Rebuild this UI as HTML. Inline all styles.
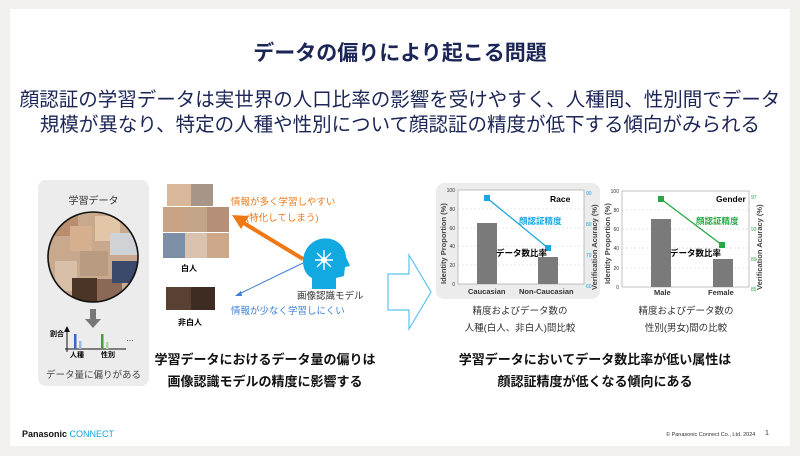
<!DOCTYPE html>
<html><head><meta charset="utf-8"><style>
body{margin:0;width:800px;height:456px;background:#f2f1ed;position:relative;overflow:hidden;font-family:"Liberation Sans","Noto Sans CJK JP",sans-serif}
.slide{position:absolute;left:10px;top:9px;width:780px;height:437px;background:#fff}
.t{position:absolute;white-space:nowrap}
.c{text-align:center}
.f{position:absolute}
</style></head><body>
<div class="slide"></div>
<div class="t c" style="left:0;width:800px;top:37px;font-size:21px;font-weight:bold;color:#1b2556">データの偏りにより起こる問題</div>
<div class="t c" style="left:0;width:800px;top:88px;font-size:19.5px;color:#1b2556;line-height:25px">顔認証の学習データは実世界の人口比率の影響を受けやすく、人種間、性別間でデータ<br>規模が異なり、特定の人種や性別について顔認証の精度が低下する傾向がみられる</div>

<div class="f" style="left:38px;top:180px;width:111px;height:206px;background:#ececec;border-radius:8px"></div>
<div class="t c" style="left:38px;width:111px;top:192px;font-size:10px;color:#333">学習データ</div>
<svg class="f" style="left:0;top:0" width="800" height="456">
<defs><clipPath id="cc"><circle cx="93" cy="257" r="45"/></clipPath></defs>
<circle cx="93" cy="257" r="45" fill="#c9a98e"/>
<g clip-path="url(#cc)">
<rect x="48" y="211" width="30" height="25" fill="#b88e6e"/><rect x="70" y="226" width="22" height="25" fill="#d6b08e"/>
<rect x="95" y="216" width="25" height="25" fill="#e2c6a8"/><rect x="110" y="233" width="30" height="22" fill="#cfd3d6"/>
<rect x="55" y="261" width="22" height="30" fill="#d8bfa8"/><rect x="72" y="278" width="25" height="25" fill="#4a3526"/>
<rect x="97" y="279" width="25" height="25" fill="#8a6a56"/><rect x="112" y="261" width="25" height="22" fill="#3b4a6a"/>
<rect x="80" y="251" width="28" height="25" fill="#b99b82"/>
</g>
<circle cx="93" cy="257" r="45" fill="none" stroke="#111" stroke-width="1.6"/>
<rect x="90" y="309" width="6" height="11" fill="#777"/><polygon points="85,319 101,319 93,328" fill="#777"/>
<line x1="65" y1="349" x2="126" y2="349" stroke="#111"/><line x1="67" y1="330" x2="67" y2="352" stroke="#111"/>
<polygon points="64,332 70,332 67,326" fill="#111"/>
<rect x="74" y="334" width="2.5" height="15" fill="#3a66c4"/><rect x="79" y="341" width="2.5" height="8" fill="#9bb6e6"/>
<rect x="101" y="334" width="2.5" height="15" fill="#4c9a3a"/><rect x="106" y="342" width="2.5" height="7" fill="#b0d6a3"/>
<rect x="167" y="184" width="24" height="22" fill="#d8b79a"/><rect x="191" y="184" width="22" height="22" fill="#a8958a"/>
<rect x="163" y="207" width="22" height="25" fill="#c9a184"/><rect x="185" y="207" width="22" height="25" fill="#c3a58a"/><rect x="207" y="207" width="22" height="25" fill="#b58f77"/>
<rect x="163" y="233" width="22" height="25" fill="#7d8fa6"/><rect x="185" y="233" width="22" height="25" fill="#d9c3ae"/><rect x="207" y="233" width="22" height="25" fill="#cda78a"/>
<rect x="166" y="287" width="25" height="23" fill="#5a4032"/><rect x="191" y="287" width="24" height="23" fill="#3e2b22"/>
<line x1="303" y1="259" x2="242" y2="222" stroke="#f07814" stroke-width="4"/>
<polygon points="232,215 249,216 241,229" fill="#f07814"/>
<line x1="303" y1="263" x2="239" y2="294" stroke="#3b7fd6" stroke-width="1"/>
<polygon points="235,296 241,291 242,296" fill="#3b7fd6"/>
<path d="M312 289 L312 278 C300 272 300 252 312 243 C325 233 345 240 346 257 L350 266 L345 267 L344 276 L336 278 L336 289 Z" fill="#12a8e0"/>
<g stroke="#fff" stroke-width="1.4"><line x1="324" y1="250" x2="324" y2="270"/><line x1="315" y1="260" x2="333" y2="260"/><line x1="317" y1="253" x2="331" y2="267"/><line x1="331" y1="253" x2="317" y2="267"/></g>
<circle cx="324" cy="260" r="3" fill="#fff"/>
<path d="M388 274 L409 274 L409 255 L431 292 L409 329 L409 310 L388 310 Z" fill="none" stroke="#5bc3ec" stroke-width="1.2"/>
<rect x="436" y="183" width="164" height="116" rx="8" fill="#ececec"/>
<rect x="458" y="190" width="126" height="94" fill="#fff" stroke="#999" stroke-width="0.6"/>
<g stroke="#ccc" stroke-dasharray="2,2" stroke-width="0.5"><line x1="458" y1="209" x2="584" y2="209"/><line x1="458" y1="228" x2="584" y2="228"/><line x1="458" y1="246" x2="584" y2="246"/><line x1="458" y1="265" x2="584" y2="265"/></g>
<rect x="477" y="223" width="20" height="61" fill="#7a7a7a"/><rect x="538" y="257" width="20" height="27" fill="#7a7a7a"/>
<line x1="487" y1="198" x2="548" y2="248" stroke="#1aa7e0" stroke-width="1.3"/>
<rect x="484" y="195" width="6" height="6" fill="#1aa7e0"/><rect x="545" y="245" width="6" height="6" fill="#1aa7e0"/>
<rect x="622" y="191" width="127" height="96" fill="#fff" stroke="#999" stroke-width="0.6"/>
<g stroke="#ccc" stroke-dasharray="2,2" stroke-width="0.5"><line x1="622" y1="210" x2="749" y2="210"/><line x1="622" y1="229" x2="749" y2="229"/><line x1="622" y1="248" x2="749" y2="248"/><line x1="622" y1="268" x2="749" y2="268"/></g>
<rect x="651" y="219" width="20" height="68" fill="#7a7a7a"/><rect x="713" y="259" width="20" height="28" fill="#7a7a7a"/>
<line x1="661" y1="199" x2="722" y2="245" stroke="#28a844" stroke-width="1.3"/>
<rect x="658" y="196" width="6" height="6" fill="#28a844"/><rect x="719" y="242" width="6" height="6" fill="#28a844"/>
<g font-size="5" fill="#333" text-anchor="end"><text x="455" y="192">100</text><text x="455" y="211">80</text><text x="455" y="230">60</text><text x="455" y="248">40</text><text x="455" y="267">20</text><text x="455" y="286">0</text>
<text x="619" y="193">100</text><text x="619" y="212">80</text><text x="619" y="231">60</text><text x="619" y="250">40</text><text x="619" y="270">20</text><text x="619" y="289">0</text></g>
<g font-size="5" fill="#1aa7e0"><text x="586" y="195">90</text><text x="586" y="226">80</text><text x="586" y="257">70</text><text x="586" y="288">60</text></g>
<g font-size="5" fill="#28a844"><text x="751" y="199">97</text><text x="751" y="231">93</text><text x="751" y="261">89</text><text x="751" y="291">85</text></g>
<g font-size="7.5" font-weight="bold" fill="#444"><text transform="translate(446,284) rotate(-90)">Identity Proportion (%)</text><text transform="translate(610,284) rotate(-90)">Identity Proportion (%)</text>
<text transform="translate(597,290) rotate(-90)">Verification Acuracy (%)</text><text transform="translate(762,290) rotate(-90)">Verification Acuracy (%)</text></g>
</svg>
<div class="t" style="left:50px;top:329px;font-size:7px;font-weight:bold">割合</div>
<div class="t" style="left:70px;top:350px;font-size:7px;font-weight:bold">人種</div>
<div class="t" style="left:101px;top:350px;font-size:7px;font-weight:bold">性別</div>
<div class="t" style="left:126px;top:334px;font-size:8px">…</div>
<div class="t c" style="left:38px;width:111px;top:367px;font-size:9.5px;color:#444">データ量に偏りがある</div>
<div class="t" style="left:181px;top:263px;font-size:8px;font-weight:bold">白人</div>
<div class="t" style="left:178px;top:317px;font-size:8px;font-weight:bold">非白人</div>
<div class="t" style="left:231px;top:194px;font-size:9.5px;color:#f07814">情報が多く学習しやすい</div>
<div class="t" style="left:246px;top:210px;font-size:9.5px;color:#f07814">(特化してしまう)</div>
<div class="t" style="left:231px;top:303px;font-size:9.5px;color:#3b7fd6">情報が少なく学習しにくい</div>
<div class="t" style="left:297px;top:288px;font-size:9.5px;color:#333">画像認識モデル</div>
<div class="t c" style="left:150px;width:230px;top:349px;font-size:13px;font-weight:bold;color:#111;line-height:22px">学習データにおけるデータ量の偏りは<br>画像認識モデルの精度に影響する</div>
<div class="t" style="left:550px;top:194px;font-size:8.5px;font-weight:bold">Race</div>
<div class="t" style="left:519px;top:215px;font-size:8.5px;font-weight:bold;color:#1aa7e0">顔認証精度</div>
<div class="t" style="left:496px;top:247px;font-size:8.5px;font-weight:bold">データ数比率</div>
<div class="t" style="left:468px;top:287px;font-size:7.5px;font-weight:bold;color:#333">Caucasian</div>
<div class="t" style="left:519px;top:287px;font-size:7.5px;font-weight:bold;color:#333">Non-Caucasian</div>
<div class="t" style="left:716px;top:194px;font-size:8.5px;font-weight:bold">Gender</div>
<div class="t" style="left:696px;top:215px;font-size:8.5px;font-weight:bold;color:#28a844">顔認証精度</div>
<div class="t" style="left:670px;top:247px;font-size:8.5px;font-weight:bold">データ数比率</div>
<div class="t" style="left:654px;top:288px;font-size:7.5px;font-weight:bold;color:#333">Male</div>
<div class="t" style="left:708px;top:288px;font-size:7.5px;font-weight:bold;color:#333">Female</div>
<div class="t c" style="left:440px;width:160px;top:303px;font-size:9.5px;color:#333;line-height:17px">精度およびデータ数の<br>人種(白人、非白人)間比較</div>
<div class="t c" style="left:606px;width:160px;top:303px;font-size:9.5px;color:#333;line-height:17px">精度およびデータ数の<br>性別(男女)間の比較</div>
<div class="t c" style="left:440px;width:310px;top:349px;font-size:13px;font-weight:bold;color:#111;line-height:22px">学習データにおいてデータ数比率が低い属性は<br>顔認証精度が低くなる傾向にある</div>
<div class="t" style="left:22px;top:429px;font-size:9px;font-weight:bold;color:#111">Panasonic <span style="color:#13a4e0;font-weight:normal">CONNECT</span></div>
<div class="t" style="left:666px;top:432px;font-size:5.5px;color:#333">© Panasonic Connect Co., Ltd. 2024</div>
<div class="t" style="left:765px;top:430px;font-size:7px;color:#333">1</div>
</body></html>
